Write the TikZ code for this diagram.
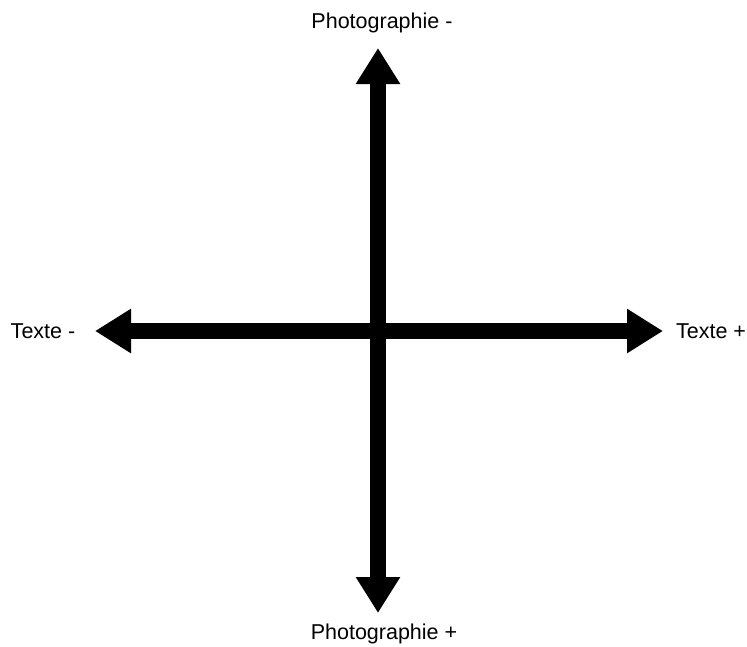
\documentclass[tikz,border=0pt]{standalone}
\usepackage{fontspec}
\setmainfont{Liberation Sans}
\usetikzlibrary{arrows.meta}
\tikzset{
  axis/.style={line width=16pt, {Triangle[length=36pt,width=42pt]}-{Triangle[length=36pt,width=42pt]}},
  lbl/.style={font=\fontsize{21.5}{25}\selectfont, inner sep=0pt}
}
\begin{document}
\begin{tikzpicture}[x=1pt,y=-1pt]
\useasboundingbox (0,0) rectangle (747,646);
\coordinate (top) at (378,48);
\coordinate (bottom) at (378,613);
\coordinate (left) at (95,331);
\coordinate (right) at (663,331);
\draw[axis] (left) -- (right);
\draw[axis] (top) -- (bottom);
\node[lbl] (pm) at (382,23) {Photographie -};
\node[lbl] (pp) at (384,634) {Photographie +};
\node[lbl] (tm) at (43,331) {Texte -};
\node[lbl] (tp) at (711,331) {Texte +};
\end{tikzpicture}
\end{document}
